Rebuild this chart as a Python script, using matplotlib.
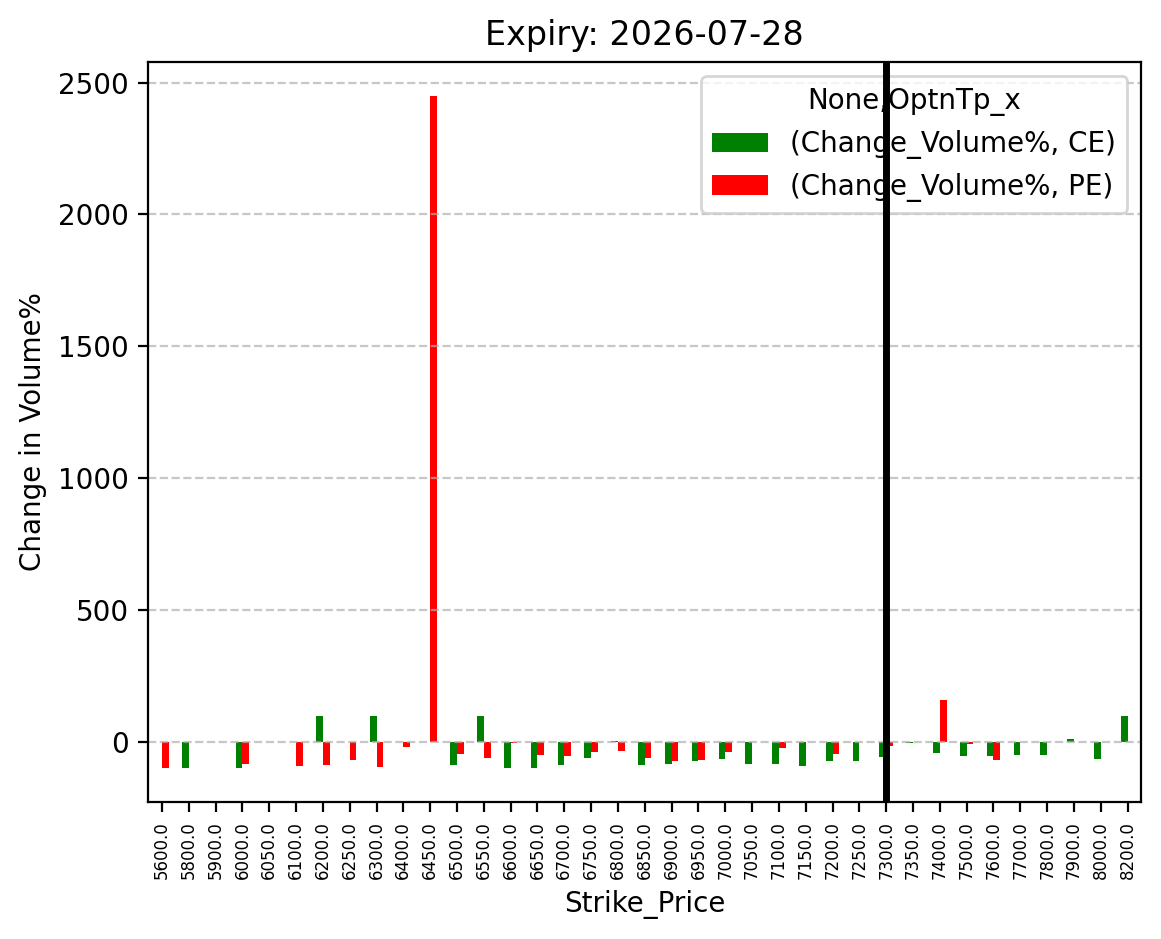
import numpy as np
import pandas as pd
import matplotlib
matplotlib.use('Agg')
import matplotlib.pyplot as plt

# strike prices and % change in volume (NaN = no bar)
strikes = [5600.0, 5800.0, 5900.0, 6000.0, 6050.0, 6100.0, 6200.0, 6250.0, 6300.0, 6400.0,
           6450.0, 6500.0, 6550.0, 6600.0, 6650.0, 6700.0, 6750.0, 6800.0, 6850.0, 6900.0,
           6950.0, 7000.0, 7050.0, 7100.0, 7150.0, 7200.0, 7250.0, 7300.0, 7350.0, 7400.0,
           7500.0, 7600.0, 7700.0, 7800.0, 7900.0, 8000.0, 8200.0]
ce_change = [np.nan, -100, np.nan, -100, np.nan, np.nan, 100, np.nan, 100, np.nan,
             np.nan, -88, 100, -100, -100, -88, -62, 2, -88, -85,
             -73, -66, -85, -85, -92, -73, -73, -58, -3, -43,
             -54, -54, -50, -50, 10, -66, 100]
pe_change = [-100, np.nan, np.nan, -85, np.nan, -92, -88, -69, -96, -20,
             2450, -47, -62, -2, -50, -54, -39, -35, -62, -73,
             -69, -39, np.nan, -24, np.nan, -47, np.nan, -15, np.nan, 158,
             -9, -69, np.nan, np.nan, np.nan, np.nan, np.nan]
expiry = '2026-07-28'
atm_strike = 7300.0

df = pd.DataFrame({('Change_Volume%', 'CE'): ce_change,
                   ('Change_Volume%', 'PE'): pe_change},
                  index=pd.Index(strikes, name='Strike_Price'))
df.columns.names = [None, 'OptnTp_x']

fig = plt.figure(figsize=(5.805, 4.695), dpi=200)
ax = fig.add_axes([0.1279, 0.1459, 0.8549, 0.788])
df.plot(kind='bar', ax=ax, color=['green', 'red'])

ax.set_title(f'Expiry: {expiry}')
ax.set_ylabel('Change in Volume%')
ax.set_xlabel('Strike_Price')
ax.tick_params(axis='x', labelsize=6)
ax.grid(axis='y', linestyle='--', alpha=0.7)

# mark the current strike
ax.axvline(strikes.index(atm_strike), color='black', linewidth=2.5, zorder=6)

plt.savefig('out.png', dpi=200)
plt.close()
